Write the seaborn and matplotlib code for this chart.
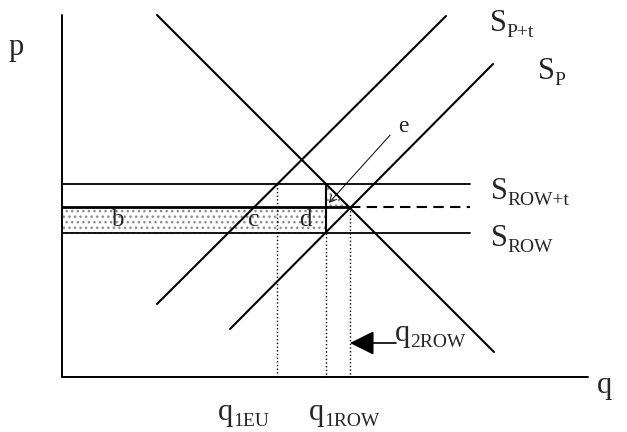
import numpy as np
import pandas as pd
import seaborn as sns
import matplotlib.pyplot as plt
from matplotlib.patches import Rectangle, Polygon

# diagram drawn in a pixel-like coordinate frame (y grows downward)
axis_origin = (62, 377)
axis_top = 15
axis_right = 588

demand_x = [157, 494]
demand_y = [15, 352]
supply_pt_x = [157, 446]
supply_pt_y = [304, 16]
supply_p_x = [230, 493]
supply_p_y = [329, 64]

p_row_t = 184
p_row = 233
p_mid = 207
row_line_end = 470

q_1eu = 277
q_1row = 326
q_2row = 350

sns.set_theme(style="white")
plt.rcParams['font.family'] = ['Liberation Serif', 'DejaVu Serif']

fig = plt.figure(figsize=(6.27, 4.32), dpi=100)
ax = fig.add_axes([0, 0, 1, 1])
ax.set_xlim(0, 627)
ax.set_ylim(432, 0)
ax.axis('off')

lines = pd.DataFrame({
    'x': demand_x + supply_pt_x + supply_p_x,
    'y': demand_y + supply_pt_y + supply_p_y,
    'curve': ['D'] * 2 + ['SPt'] * 2 + ['SP'] * 2,
})
sns.lineplot(data=lines, x='x', y='y', units='curve', estimator=None,
             color='black', lw=1.5, sort=False, ax=ax)

# axes
x0, y0 = axis_origin
ax.plot([x0, x0], [axis_top, y0], color='black', lw=1.4)
ax.plot([x0, axis_right], [y0, y0], color='black', lw=1.4)

# world price lines
ax.plot([x0, row_line_end], [p_row_t, p_row_t], color='black', lw=1.3)
ax.plot([x0, row_line_end], [p_row, p_row], color='black', lw=1.3)

# shaded revenue strip
ax.add_patch(Rectangle((x0, p_mid), q_1row - x0, p_row - p_mid, facecolor='white',
                       edgecolor='#8c8c8c', hatch='...', lw=0))
ax.plot([x0, q_2row], [p_mid, p_mid], color='black', lw=2)
ax.plot([q_2row, row_line_end], [p_mid, p_mid], color='black', lw=1.5, ls=(0, (5, 3)))
ax.plot([q_1row, q_1row], [p_row_t, p_row], color='black', lw=1.5)

# triangle e
ax.add_patch(Polygon([(q_1row, p_row_t), (q_1row, p_mid), (q_2row, p_mid)],
                     facecolor='white', edgecolor='#8c8c8c', hatch='...', lw=0))

# dotted quantity markers
ax.plot([q_1eu, q_1eu], [p_row_t, y0], color='black', lw=1, ls=':')
ax.plot([q_1row, q_1row], [p_row, y0], color='black', lw=1, ls=':')
ax.plot([q_2row, q_2row], [p_mid, y0], color='black', lw=1, ls=':')

# pointer to e
ax.annotate('', xy=(327, 205), xytext=(392, 133),
            arrowprops=dict(arrowstyle='->', color='black', lw=0.7))
ax.text(403, 126, 'e', fontsize=17, ha='center', va='center')

# arrow for q2ROW
ax.annotate('', xy=(q_2row, 343), xytext=(396, 343),
            arrowprops=dict(arrowstyle='-|>,head_length=1.0,head_width=0.5', mutation_scale=15,
                            color='black', lw=1.2, shrinkA=0, shrinkB=0))

for lab, xx in [('b', 117), ('c', 254), ('d', 305)]:
    ax.text(xx, 220, lab, fontsize=18, ha='center', va='center')

ax.text(16, 47, 'p', fontsize=22, ha='center', va='center')
ax.text(605, 385, 'q', fontsize=22, ha='center', va='center')


def label(x, y, main, sub):
    t = ax.text(x, y, main, fontsize=22, ha='left', va='baseline')
    ax.annotate(sub, xy=(1, 0), xycoords=t, xytext=(0, -2), textcoords='offset points',
                fontsize=14, ha='left', va='bottom')


label(490, 31, 'S', 'P+t')
label(538, 79, 'S', 'P')
label(491, 199, 'S', 'ROW+t')
label(491, 246, 'S', 'ROW')
label(218, 420, 'q', '1EU')
label(309, 420, 'q', '1ROW')
label(395, 341, 'q', '2ROW')

fig.savefig('out.png', dpi=100)
